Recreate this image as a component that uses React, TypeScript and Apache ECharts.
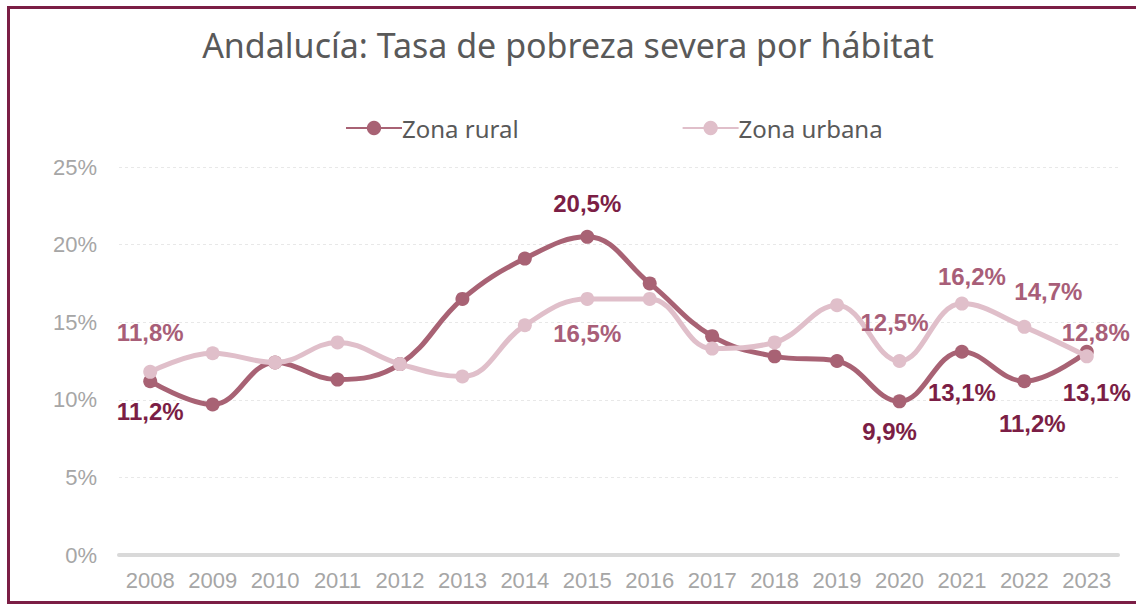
import React, { useEffect, useRef } from "react";
import * as echarts from "echarts";

const years = ["2008", "2009", "2010", "2011", "2012", "2013", "2014", "2015", "2016", "2017", "2018", "2019", "2020", "2021", "2022", "2023"];
const rural = [11.2, 9.7, 12.4, 11.3, 12.3, 16.5, 19.1, 20.5, 17.5, 14.1, 12.8, 12.5, 9.9, 13.1, 11.2, 13.1];
const urbana = [11.8, 13.0, 12.4, 13.7, 12.3, 11.5, 14.8, 16.5, 16.5, 13.3, 13.7, 16.1, 12.5, 16.2, 14.7, 12.8];
const yTicks = [0, 5, 10, 15, 20, 25];

// label placement (index -> offset from point centre)
const ruralLabels: Record<number, [number, number]> = {
  0: [0, 30],
  7: [0, -33],
  12: [-10, 30],
  13: [0, 41],
  14: [8, 42],
  15: [10, 41],
};
const urbanaLabels: Record<number, [number, number]> = {
  0: [0, -39],
  7: [0, 35],
  12: [-5, -39],
  13: [10, -27],
  14: [24, -35],
  15: [9, -24],
};

const fmt = (v: number) => v.toFixed(1).replace(".", ",") + "%";

function buildData(values: number[], labels: Record<number, [number, number]>, color: string) {
  return values.map((v, i) => {
    const off = labels[i];
    if (!off) return { value: v };
    return {
      value: v,
      label: {
        show: true,
        position: "inside",
        offset: off,
        formatter: () => fmt(v),
        color,
        fontFamily: "Liberation Sans",
        fontWeight: "bold",
        fontSize: 24,
      },
    };
  });
}

export default function App() {
  const ref = useRef<HTMLDivElement>(null);
  useEffect(() => {
    if (!ref.current) return;
    const chart = echarts.init(ref.current, null, { renderer: "svg" });
    const ruralColor = "#A86274";
    const urbanColor = "#E0BFCA";
    chart.setOption({
      animation: false,
      backgroundColor: "#ffffff",
      title: {
        text: "Andalucía: Tasa de pobreza severa por hábitat",
        left: "center",
        top: 23,
        textStyle: {
          fontFamily: "Noto Sans",
          fontSize: 34,
          fontWeight: "normal",
          color: "#595959",
        },
      },
      legend: {
        left: 340,
        top: 111,
        itemWidth: 56,
        itemHeight: 18,
        itemGap: 163,
        textStyle: { fontFamily: "Noto Sans", fontSize: 24, color: "#595959", padding: [0, 0, 0, -5] },
        data: ["Zona rural", "Zona urbana"],
      },
      grid: { left: 119, right: 18, top: 167, bottom: 49, containLabel: false },
      xAxis: {
        type: "category",
        data: years,
        boundaryGap: true,
        axisLine: { lineStyle: { color: "#D9D9D9", width: 4 } },
        axisTick: { show: false },
        axisLabel: { interval: 0, color: "#A6A6A6", fontFamily: "Liberation Sans", fontSize: 22, margin: 14 },
      },
      yAxis: {
        type: "value",
        min: yTicks[0],
        max: yTicks[yTicks.length - 1],
        interval: 5,
        axisLine: { show: false },
        axisTick: { show: false },
        axisLabel: { color: "#A6A6A6", fontFamily: "Liberation Sans", fontSize: 22, margin: 22, formatter: "{value}%" },
        splitLine: { lineStyle: { color: "#E8E8E8", width: 1, type: [3, 3] } },
      },
      series: [
        {
          name: "Zona rural",
          type: "line",
          smooth: 0.4,
          symbol: "circle",
          symbolSize: 14,
          itemStyle: { color: ruralColor },
          lineStyle: { color: ruralColor, width: 5 },
          label: { show: false },
          data: buildData(rural, ruralLabels, "#7B1E45"),
          z: 2,
        },
        {
          name: "Zona urbana",
          type: "line",
          smooth: 0.4,
          symbol: "circle",
          symbolSize: 14,
          itemStyle: { color: urbanColor },
          lineStyle: { color: urbanColor, width: 5 },
          label: { show: false },
          data: buildData(urbana, urbanaLabels, "#A85E78"),
          z: 3,
        },
      ],
      graphic: [
        {
          type: "rect",
          silent: true,
          shape: { x: 8.5, y: 7.5, width: 1140, height: 595 },
          style: { fill: "none", stroke: "#7B1E45", lineWidth: 3 },
          z: 100,
        },
      ],
    });
    return () => chart.dispose();
  }, []);
  return <div ref={ref} style={{ position: "absolute", left: 0, top: 0, width: 1136, height: 604 }} />;
}
